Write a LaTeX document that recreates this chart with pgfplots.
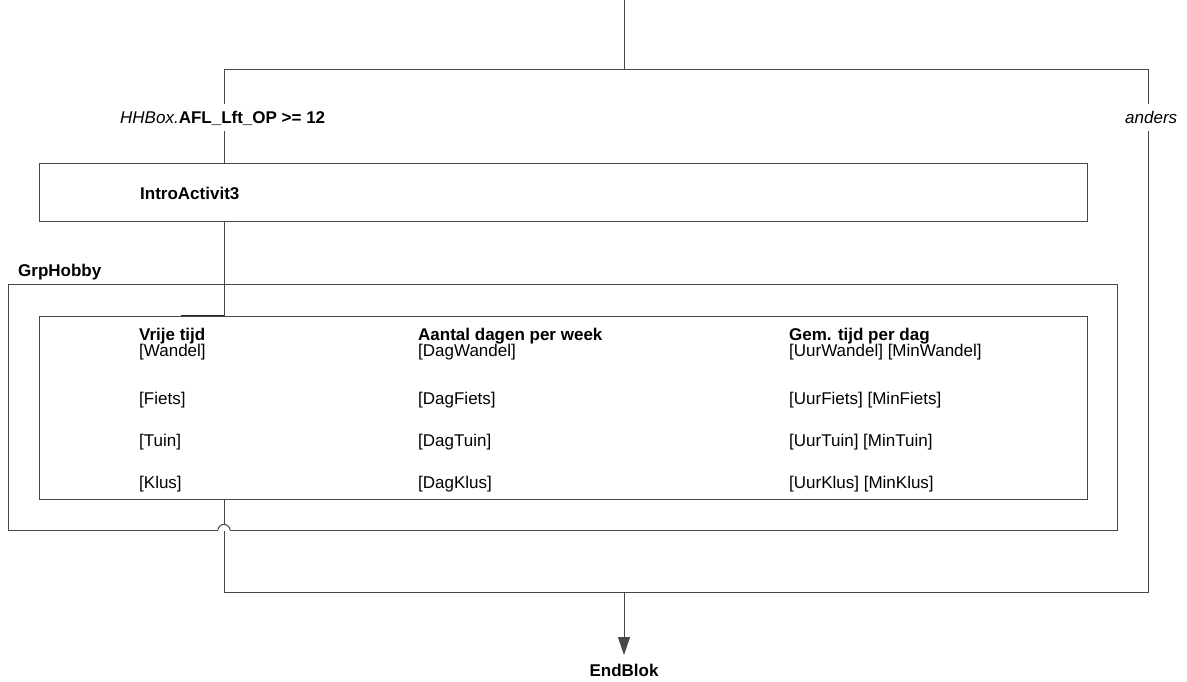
\documentclass[border=0pt]{standalone}
\usepackage{fontspec}
\setmainfont{Liberation Sans}
\usepackage{pgfplots}
\pgfplotsset{compat=1.18}
\usetikzlibrary{arrows.meta}
\begin{document}
\begin{tikzpicture}
\begin{axis}[
  width=1187pt, height=682pt, scale only axis,
  xmin=0, xmax=1187, ymin=0, ymax=682, y dir=reverse,
  axis lines=none, clip=false,
  ln/.style={line width=1pt, color=black!72, mark=none, solid},
  nodes={font=\fontsize{17}{20}\selectfont, inner sep=0pt, text=black},
]
% top line and split
\addplot[ln] coordinates {(624,0) (624,70)};
\addplot[ln] coordinates {(224,104) (224,70) (1148,70) (1148,104)};
\addplot[ln] coordinates {(224,131) (224,164)};
\addplot[ln] coordinates {(1148,131) (1148,592) (224,592) (224,531)};
\addplot[ln] coordinates {(224,524) (224,499)};
% IntroActivit3 box
\addplot[ln] coordinates {(39,164) (1087,164) (1087,222) (39,222) (39,164)};
\addplot[ln] coordinates {(224,222) (224,316)};
\addplot[ln, line width=1.6pt, color=black!85] coordinates {(181,316) (224,316)};
% outer group box with hop
\addplot[ln] coordinates {(230,530) (1117,530) (1117,284) (8,284) (8,530) (218,530)};
\addplot[ln] coordinates {(218,530) (218.4,528) (219.8,526.2) (221.8,524.8) (224,524.3) (226.2,524.8) (228.2,526.2) (229.6,528) (230,530)};
% inner box
\addplot[ln] coordinates {(39,316) (1087,316) (1087,499) (39,499) (39,316)};
% arrow to EndBlok
\addplot[ln, -{Triangle[length=18pt,width=12pt]}] coordinates {(624,592) (624,655)};
% texts
\node[anchor=base west] at (axis cs:120,124) {\textit{HHBox.}\textbf{AFL\_Lft\_OP >= 12}};
\node[anchor=base west] at (axis cs:1125,124) {\textit{anders}};
\node[anchor=base west] at (axis cs:140,200) {\textbf{IntroActivit3}};
\node[anchor=base west] at (axis cs:18,276) {\textbf{GrpHobby}};
\node[anchor=base] at (axis cs:624,676) {\textbf{EndBlok}};
\node[anchor=base west] at (axis cs:139,340) {\textbf{Vrije tijd}};
\node[anchor=base west] at (axis cs:418,340) {\textbf{Aantal dagen per week}};
\node[anchor=base west] at (axis cs:789,340) {\textbf{Gem. tijd per dag}};
\node[anchor=base west] at (axis cs:139,356) {[Wandel]};
\node[anchor=base west] at (axis cs:418,356) {[DagWandel]};
\node[anchor=base west] at (axis cs:789,356) {[UurWandel] [MinWandel]};
\node[anchor=base west] at (axis cs:139,404) {[Fiets]};
\node[anchor=base west] at (axis cs:418,404) {[DagFiets]};
\node[anchor=base west] at (axis cs:789,404) {[UurFiets] [MinFiets]};
\node[anchor=base west] at (axis cs:139,446) {[Tuin]};
\node[anchor=base west] at (axis cs:418,446) {[DagTuin]};
\node[anchor=base west] at (axis cs:789,446) {[UurTuin] [MinTuin]};
\node[anchor=base west] at (axis cs:139,488) {[Klus]};
\node[anchor=base west] at (axis cs:418,488) {[DagKlus]};
\node[anchor=base west] at (axis cs:789,488) {[UurKlus] [MinKlus]};
\end{axis}
\pgfresetboundingbox
\path (current axis.south west) rectangle (current axis.north east);
\end{tikzpicture}
\end{document}
